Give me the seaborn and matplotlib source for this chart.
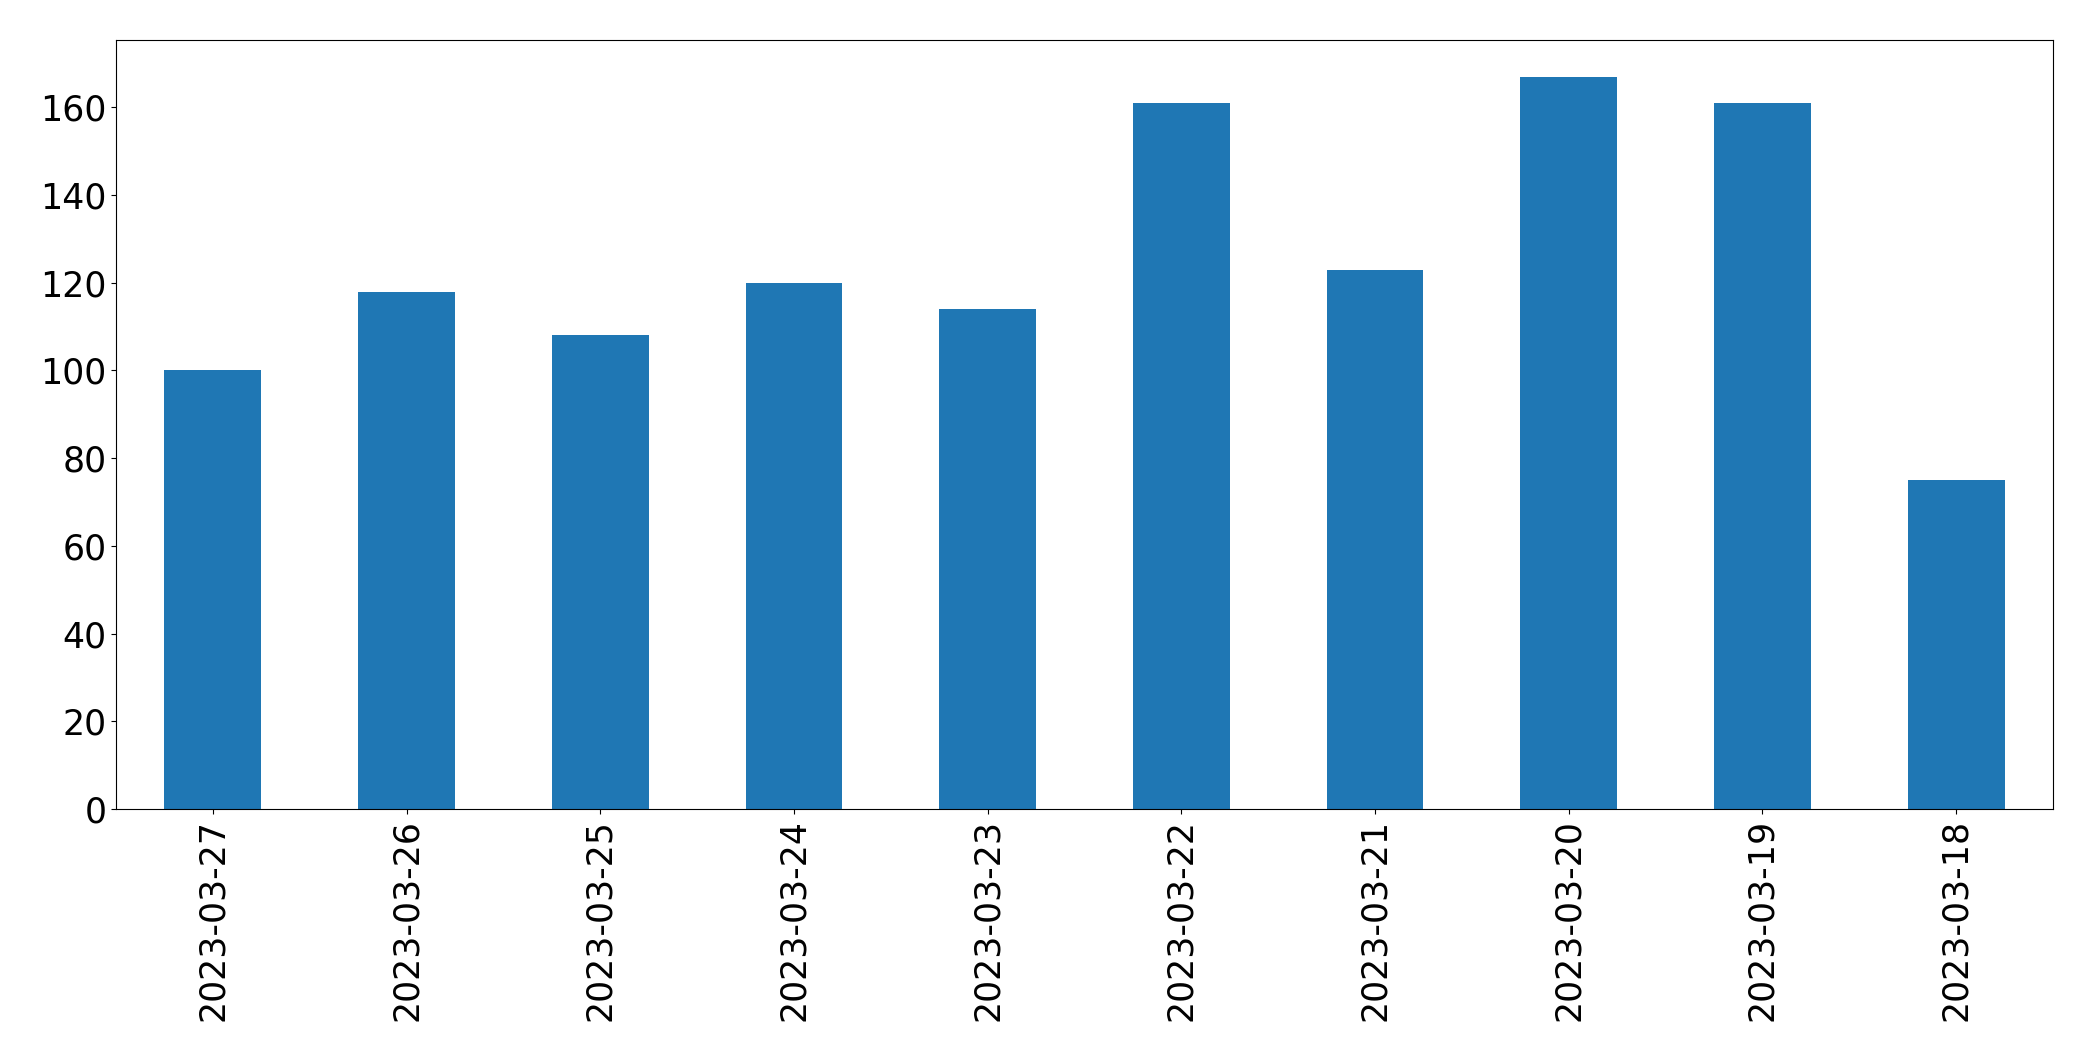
import matplotlib
matplotlib.use("Agg")
import matplotlib.pyplot as plt
import seaborn as sns
import pandas as pd

dates = ["2023-03-27", "2023-03-26", "2023-03-25", "2023-03-24", "2023-03-23",
         "2023-03-22", "2023-03-21", "2023-03-20", "2023-03-19", "2023-03-18"]
counts = [100, 118, 108, 120, 114, 161, 123, 167, 161, 75]

df = pd.DataFrame({"date": dates, "count": counts})

fig = plt.figure(figsize=(20.93, 10.61), dpi=100)
ax = fig.add_axes([116 / 2093, 1 - 809 / 1061, (2053 - 116) / 2093, (809 - 40) / 1061])

sns.barplot(data=df, x="date", y="count", order=dates, color="#1f77b4",
            saturation=1, width=0.5, linewidth=0, ax=ax)

ax.set_xlim(-0.5, len(dates) - 0.5)
ax.set_ylim(0, max(counts) * 1.05)
ax.set_xlabel("")
ax.set_ylabel("")
ax.tick_params(axis="both", labelsize=25)
plt.setp(ax.get_xticklabels(), rotation=90)
for s in ax.spines.values():
    s.set_visible(True)
    s.set_color("black")

fig.savefig("out.png", dpi=100)
